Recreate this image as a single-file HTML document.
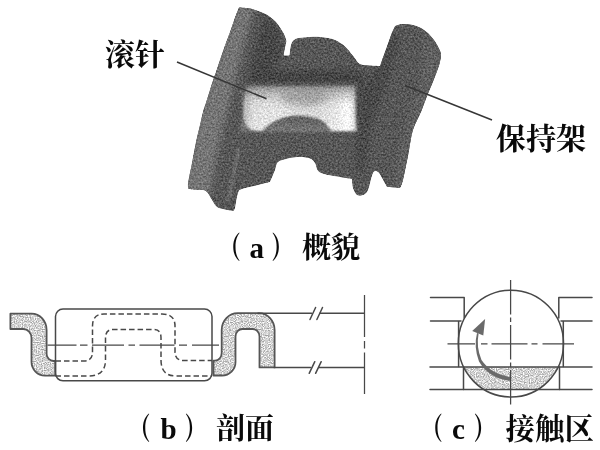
<!DOCTYPE html>
<html lang="zh">
<head>
<meta charset="utf-8">
<title>滚针 保持架</title>
<style>
html,body{margin:0;padding:0;background:#fff;}
body{width:600px;height:450px;overflow:hidden;}
svg{display:block;}
text{opacity:0.996;}
.cj{font-family:"Liberation Serif","Noto Serif CJK SC",serif;font-weight:700;fill:#0a0a0a;}
.pr{font-family:"Liberation Serif","Noto Serif CJK SC",serif;font-weight:900;fill:#0a0a0a;}
.ln{stroke:#484848;stroke-width:1.5;fill:none;stroke-linecap:round;stroke-linejoin:round;}
.dash{stroke:#484848;stroke-width:1.5;fill:none;stroke-dasharray:5.5 3;}
.ctr{stroke:#484848;stroke-width:1.25;fill:none;}
.cage{fill:none;stroke:#555;stroke-width:1.8;stroke-linejoin:round;}
</style>
</head>
<body>
<svg width="600" height="450" viewBox="0 0 600 450">
<defs>
  <filter id="speck" x="0" y="0" width="100%" height="100%" color-interpolation-filters="sRGB">
    <feTurbulence type="fractalNoise" baseFrequency="0.85" numOctaves="1" seed="11" result="t"/>
    <feColorMatrix in="t" type="matrix" values="1 0 0 0 0  1 0 0 0 0  1 0 0 0 0  0 0 0 0 1" result="g"/>
    <feComponentTransfer in="g" result="g2"><feFuncR type="linear" slope="2.4" intercept="-0.7"/><feFuncG type="linear" slope="2.4" intercept="-0.7"/><feFuncB type="linear" slope="2.4" intercept="-0.7"/></feComponentTransfer>
    <feComposite in="SourceGraphic" in2="g2" operator="arithmetic" k1="0" k2="1" k3="0.4" k4="-0.2" result="m"/>
    <feComposite in="m" in2="SourceGraphic" operator="in"/>
  </filter>
  <linearGradient id="gL" x1="0" y1="0" x2="1" y2="0">
    <stop offset="0" stop-color="#6e6e6e"/>
    <stop offset="0.5" stop-color="#5a5a5a"/>
    <stop offset="1" stop-color="#4e4e4e"/>
  </linearGradient>
  <linearGradient id="gR" x1="0" y1="0" x2="1" y2="0">
    <stop offset="0" stop-color="#505050"/>
    <stop offset="0.6" stop-color="#5e5e5e"/>
    <stop offset="1" stop-color="#6a6a6a"/>
  </linearGradient>
  <linearGradient id="gRoll" x1="0" y1="0" x2="1" y2="0">
    <stop offset="0" stop-color="#b4b4b4"/>
    <stop offset="0.1" stop-color="#dedede"/>
    <stop offset="0.3" stop-color="#e2e2e2"/>
    <stop offset="0.6" stop-color="#d6d6d6"/>
    <stop offset="0.82" stop-color="#e4e4e4"/>
    <stop offset="0.93" stop-color="#fcfcfc"/>
    <stop offset="1" stop-color="#d0d0d0"/>
  </linearGradient>
  <linearGradient id="gRollV" x1="0" y1="0" x2="0" y2="1">
    <stop offset="0" stop-color="#555" stop-opacity="0.9"/>
    <stop offset="0.14" stop-color="#666" stop-opacity="0.55"/>
    <stop offset="0.4" stop-color="#888" stop-opacity="0.12"/>
    <stop offset="0.6" stop-color="#fff" stop-opacity="0"/>
    <stop offset="1" stop-color="#fff" stop-opacity="0.2"/>
  </linearGradient>
  <filter id="soft" x="-5%" y="-5%" width="110%" height="110%">
    <feGaussianBlur stdDeviation="0.7"/>
  </filter>
  <filter id="soft2" x="-10%" y="-10%" width="120%" height="120%">
    <feGaussianBlur stdDeviation="1.0"/>
  </filter>
  <clipPath id="silclip"><path d="M239.0,7.5 C239.0,7.5 244.5,7.7 247.0,8.0 C249.5,8.3 251.7,8.8 254.0,9.5 C256.3,10.2 258.8,11.1 261.0,12.0 C263.2,12.9 265.7,13.9 267.5,15.0 C269.3,16.1 270.6,17.3 272.0,18.5 C273.4,19.7 274.7,20.5 276.0,22.0 C277.3,23.5 278.7,25.5 280.0,27.5 C281.3,29.5 282.9,31.8 284.0,34.0 C285.1,36.2 286.5,41.0 286.5,41.0 C286.5,41.0 285.5,45.6 285.0,48.0 C284.5,50.4 283.5,55.5 283.5,55.5 C283.5,55.5 289.5,55.5 289.5,55.5 C289.5,55.5 290.0,51.0 290.3,49.0 C290.6,47.0 290.9,45.0 291.5,43.5 C292.1,42.0 292.8,40.9 294.0,40.0 C295.2,39.1 295.8,38.5 298.5,38.0 C301.2,37.5 306.4,37.2 310.0,37.0 C313.6,36.8 317.0,36.8 320.0,37.0 C323.0,37.2 325.5,37.5 328.0,38.0 C330.5,38.5 332.7,39.0 335.0,40.0 C337.3,41.0 339.9,42.5 342.0,44.0 C344.1,45.5 345.5,46.8 347.5,49.0 C349.5,51.2 351.9,54.5 354.0,57.0 C356.1,59.5 357.3,62.6 360.0,64.0 C362.7,65.4 366.7,65.2 370.0,65.5 C373.3,65.8 380.0,66.0 380.0,66.0 C380.0,66.0 382.2,59.5 383.5,56.0 C384.8,52.5 386.2,48.5 387.5,45.0 C388.8,41.5 389.8,38.2 391.0,35.0 C392.2,31.8 395.0,26.0 395.0,26.0 C395.0,26.0 398.3,24.6 400.0,24.3 C401.7,24.0 402.8,23.9 405.0,24.0 C407.2,24.1 410.5,24.4 413.0,25.0 C415.5,25.6 417.5,26.2 420.0,27.5 C422.5,28.8 425.7,30.9 428.0,33.0 C430.3,35.1 432.3,37.8 434.0,40.0 C435.7,42.2 436.8,44.2 438.0,46.5 C439.2,48.8 440.7,51.4 441.0,54.0 C441.3,56.6 440.6,59.3 440.0,62.0 C439.4,64.7 438.8,66.5 437.5,70.0 C436.2,73.5 434.2,78.8 432.5,83.0 C430.8,87.2 429.4,90.2 427.5,95.0 C425.6,99.8 423.4,106.2 421.0,112.0 C418.6,117.8 415.2,122.7 413.0,130.0 C410.8,137.3 409.7,147.7 408.0,156.0 C406.3,164.3 404.3,174.7 403.0,180.0 C401.7,185.3 400.0,188.0 400.0,188.0 C400.0,188.0 387.0,187.0 387.0,187.0 C387.0,187.0 383.5,180.5 382.0,178.0 C380.5,175.5 379.5,172.8 378.0,172.0 C376.5,171.2 374.7,170.0 373.0,173.0 C371.3,176.0 369.7,186.3 368.0,190.0 C366.3,193.7 364.8,194.2 363.0,195.0 C361.2,195.8 358.7,196.2 357.0,195.0 C355.3,193.8 353.8,190.7 353.0,188.0 C352.2,185.3 352.0,179.0 352.0,179.0 C352.0,179.0 345.3,178.1 340.0,177.0 C334.7,175.9 324.2,174.8 320.0,172.5 C315.8,170.2 316.7,165.3 315.0,163.0 C313.3,160.7 312.5,159.5 310.0,158.5 C307.5,157.5 303.7,157.0 300.0,157.0 C296.3,157.0 291.7,157.6 288.0,158.4 C284.3,159.2 280.2,160.1 278.0,162.0 C275.8,163.9 276.3,166.7 275.0,170.0 C273.7,173.3 270.0,182.0 270.0,182.0 C270.0,182.0 262.7,183.8 258.0,185.0 C253.3,186.2 245.3,187.7 242.0,189.0 C238.7,190.3 239.2,189.8 238.0,193.0 C236.8,196.2 235.8,205.0 235.0,208.0 C234.2,211.0 233.0,211.0 233.0,211.0 C233.0,211.0 227.7,210.2 225.0,209.5 C222.3,208.8 219.2,208.6 217.0,207.0 C214.8,205.4 213.8,202.7 212.0,200.0 C210.2,197.3 208.3,192.7 206.0,191.0 C203.7,189.3 200.8,190.3 198.0,190.0 C195.2,189.7 189.0,189.0 189.0,189.0 C189.0,189.0 187.5,188.3 188.0,184.0 C188.5,179.7 190.7,170.0 192.0,163.0 C193.3,156.0 194.7,148.3 196.0,142.0 C197.3,135.7 198.8,130.0 200.0,125.0 C201.2,120.0 201.8,116.5 203.0,112.0 C204.2,107.5 205.9,103.0 207.5,98.0 C209.1,93.0 210.9,86.8 212.5,82.0 C214.1,77.2 215.6,73.2 217.0,69.0 C218.4,64.8 219.6,61.2 221.0,57.0 C222.4,52.8 224.0,48.2 225.5,44.0 C227.0,39.8 228.5,36.2 230.0,32.0 C231.5,27.8 233.0,23.1 234.5,19.0 C236.0,14.9 239.0,7.5 239.0,7.5 Z"/></clipPath>
  <filter id="soft3" x="-30%" y="-30%" width="160%" height="160%">
    <feGaussianBlur stdDeviation="3"/>
  </filter>
  <filter id="grain" x="0" y="0" width="100%" height="100%" color-interpolation-filters="sRGB">
    <feGaussianBlur in="SourceGraphic" stdDeviation="0.6" result="b"/>
    <feTurbulence type="fractalNoise" baseFrequency="0.55" numOctaves="2" seed="7" result="t"/>
    <feColorMatrix in="t" type="matrix" values="1 0 0 0 0  1 0 0 0 0  1 0 0 0 0  0 0 0 0 1" result="g"/>
    <feComposite in="b" in2="g" operator="arithmetic" k1="0" k2="1" k3="0.44" k4="-0.22" result="m"/>
    <feComposite in="m" in2="b" operator="in"/>
  </filter>
</defs>

<!-- (a) 3D view -->
<g id="view3d" filter="url(#grain)">
  <path id="silh" fill="#575757" d="M239.0,7.5 C239.0,7.5 244.5,7.7 247.0,8.0 C249.5,8.3 251.7,8.8 254.0,9.5 C256.3,10.2 258.8,11.1 261.0,12.0 C263.2,12.9 265.7,13.9 267.5,15.0 C269.3,16.1 270.6,17.3 272.0,18.5 C273.4,19.7 274.7,20.5 276.0,22.0 C277.3,23.5 278.7,25.5 280.0,27.5 C281.3,29.5 282.9,31.8 284.0,34.0 C285.1,36.2 286.5,41.0 286.5,41.0 C286.5,41.0 285.5,45.6 285.0,48.0 C284.5,50.4 283.5,55.5 283.5,55.5 C283.5,55.5 289.5,55.5 289.5,55.5 C289.5,55.5 290.0,51.0 290.3,49.0 C290.6,47.0 290.9,45.0 291.5,43.5 C292.1,42.0 292.8,40.9 294.0,40.0 C295.2,39.1 295.8,38.5 298.5,38.0 C301.2,37.5 306.4,37.2 310.0,37.0 C313.6,36.8 317.0,36.8 320.0,37.0 C323.0,37.2 325.5,37.5 328.0,38.0 C330.5,38.5 332.7,39.0 335.0,40.0 C337.3,41.0 339.9,42.5 342.0,44.0 C344.1,45.5 345.5,46.8 347.5,49.0 C349.5,51.2 351.9,54.5 354.0,57.0 C356.1,59.5 357.3,62.6 360.0,64.0 C362.7,65.4 366.7,65.2 370.0,65.5 C373.3,65.8 380.0,66.0 380.0,66.0 C380.0,66.0 382.2,59.5 383.5,56.0 C384.8,52.5 386.2,48.5 387.5,45.0 C388.8,41.5 389.8,38.2 391.0,35.0 C392.2,31.8 395.0,26.0 395.0,26.0 C395.0,26.0 398.3,24.6 400.0,24.3 C401.7,24.0 402.8,23.9 405.0,24.0 C407.2,24.1 410.5,24.4 413.0,25.0 C415.5,25.6 417.5,26.2 420.0,27.5 C422.5,28.8 425.7,30.9 428.0,33.0 C430.3,35.1 432.3,37.8 434.0,40.0 C435.7,42.2 436.8,44.2 438.0,46.5 C439.2,48.8 440.7,51.4 441.0,54.0 C441.3,56.6 440.6,59.3 440.0,62.0 C439.4,64.7 438.8,66.5 437.5,70.0 C436.2,73.5 434.2,78.8 432.5,83.0 C430.8,87.2 429.4,90.2 427.5,95.0 C425.6,99.8 423.4,106.2 421.0,112.0 C418.6,117.8 415.2,122.7 413.0,130.0 C410.8,137.3 409.7,147.7 408.0,156.0 C406.3,164.3 404.3,174.7 403.0,180.0 C401.7,185.3 400.0,188.0 400.0,188.0 C400.0,188.0 387.0,187.0 387.0,187.0 C387.0,187.0 383.5,180.5 382.0,178.0 C380.5,175.5 379.5,172.8 378.0,172.0 C376.5,171.2 374.7,170.0 373.0,173.0 C371.3,176.0 369.7,186.3 368.0,190.0 C366.3,193.7 364.8,194.2 363.0,195.0 C361.2,195.8 358.7,196.2 357.0,195.0 C355.3,193.8 353.8,190.7 353.0,188.0 C352.2,185.3 352.0,179.0 352.0,179.0 C352.0,179.0 345.3,178.1 340.0,177.0 C334.7,175.9 324.2,174.8 320.0,172.5 C315.8,170.2 316.7,165.3 315.0,163.0 C313.3,160.7 312.5,159.5 310.0,158.5 C307.5,157.5 303.7,157.0 300.0,157.0 C296.3,157.0 291.7,157.6 288.0,158.4 C284.3,159.2 280.2,160.1 278.0,162.0 C275.8,163.9 276.3,166.7 275.0,170.0 C273.7,173.3 270.0,182.0 270.0,182.0 C270.0,182.0 262.7,183.8 258.0,185.0 C253.3,186.2 245.3,187.7 242.0,189.0 C238.7,190.3 239.2,189.8 238.0,193.0 C236.8,196.2 235.8,205.0 235.0,208.0 C234.2,211.0 233.0,211.0 233.0,211.0 C233.0,211.0 227.7,210.2 225.0,209.5 C222.3,208.8 219.2,208.6 217.0,207.0 C214.8,205.4 213.8,202.7 212.0,200.0 C210.2,197.3 208.3,192.7 206.0,191.0 C203.7,189.3 200.8,190.3 198.0,190.0 C195.2,189.7 189.0,189.0 189.0,189.0 C189.0,189.0 187.5,188.3 188.0,184.0 C188.5,179.7 190.7,170.0 192.0,163.0 C193.3,156.0 194.7,148.3 196.0,142.0 C197.3,135.7 198.8,130.0 200.0,125.0 C201.2,120.0 201.8,116.5 203.0,112.0 C204.2,107.5 205.9,103.0 207.5,98.0 C209.1,93.0 210.9,86.8 212.5,82.0 C214.1,77.2 215.6,73.2 217.0,69.0 C218.4,64.8 219.6,61.2 221.0,57.0 C222.4,52.8 224.0,48.2 225.5,44.0 C227.0,39.8 228.5,36.2 230.0,32.0 C231.5,27.8 233.0,23.1 234.5,19.0 C236.0,14.9 239.0,7.5 239.0,7.5 Z"/>
  <g clip-path="url(#silclip)">
    <!-- lighter left flank of left pillar -->
    <path filter="url(#soft3)" fill="#747474" d="M239,3 L254,8 L244,45 L234,85 L224,125 L216,160 L210,195 L183,192 L193,140 L210,80 Z"/>
    <!-- darker core of left pillar -->
    <path filter="url(#soft3)" fill="#464646" d="M264,16 L280,30 L282,55 L270,75 L254,88 L250,70 L257,40 Z"/>
    <!-- shadow above roller -->
    <path filter="url(#soft3)" fill="#454545" d="M252,70 L360,70 L366,84 L360,88 L248,88 Z"/>
    <!-- dark inner edge of right pillar -->
    <path filter="url(#soft3)" fill="#484848" d="M380,66 L392,30 L400,40 L388,80 L370,130 L364,172 L356,172 L356,90 Z"/>
    <!-- lighter right flank of right pillar -->
    <path filter="url(#soft3)" fill="#606060" d="M425,35 L444,54 L425,105 L412,150 L404,190 L392,188 L402,140 L420,80 Z"/>
    <!-- highlight ridge lower left -->
    <path filter="url(#soft2)" fill="#707070" d="M237,148 L240,150 L230,200 L227,199 Z"/>
    <!-- roller -->
    <g filter="url(#soft2)">
      <path fill="url(#gRoll)" d="M247,86 L355,86 L356,131 L331,131 Q326,121 317.500,118.500 Q303,114.500 291,116 Q275,118.500 265,128 L262,131 L252,130 Q244,126 243.500,118 Q242,100 247,86 Z"/>
      <path fill="url(#gRollV)" d="M240,82 L358,82 L358,132 L240,132 Z"/>
      <ellipse filter="url(#soft3)" cx="304" cy="98" rx="24" ry="8" fill="#909090" opacity="0.6"/>
    </g>
  </g>
</g>

<!-- leader lines -->
<line x1="177" y1="62" x2="266.500" y2="98.800" stroke="#363636" stroke-width="1.5"/>
<line x1="405" y1="85.500" x2="492" y2="120" stroke="#363636" stroke-width="1.5"/>

<!-- labels -->
<text class="cj" x="105" y="65" font-size="30">滚针</text>
<text class="cj" x="496" y="149" font-size="30">保持架</text>

<!-- caption a -->
<text class="pr" font-size="30" transform="translate(220.300,0) scale(0.68,1)" x="0" y="258">（</text>
<text class="cj" font-size="29" x="249.500" y="258">a</text>
<text class="pr" font-size="30" transform="translate(271.400,0) scale(0.68,1)" x="0" y="258">）</text>
<text class="cj" font-size="29" x="302" y="258">概貌</text>

<!-- (b) section -->
<g id="secB">
  <!-- left cage piece -->
  <path fill="#d2d2d2" filter="url(#speck)" d="M10.400,313.700 L31.600,313.700 A15,16.300 0 0 1 46.600,330 L46.600,354 A7,7 0 0 0 53.600,361 L55.300,361 L55.300,375.600 L45,375.600 A13.500,13.800 0 0 1 31.500,361.800 L31.500,337.800 A8.300,8.800 0 0 0 23.200,329 L10.400,329 Z"/>
  <path class="cage" d="M10.400,313.700 L31.600,313.700 A15,16.300 0 0 1 46.600,330 L46.600,354 A7,7 0 0 0 53.600,361 L55.300,361 L55.300,375.600 L45,375.600 A13.500,13.800 0 0 1 31.500,361.800 L31.500,337.800 A8.300,8.800 0 0 0 23.200,329 L10.400,329 Z"/>
  <!-- right cage piece -->
  <path fill="#d2d2d2" filter="url(#speck)" d="M213.500,360.600 L215,360.600 A6.800,7.500 0 0 0 221.700,353 L221.700,330 A16,16.800 0 0 1 237.700,313.200 L259,313.200 A15.600,16.800 0 0 1 274.600,330 L274.600,367.400 L259.500,367.400 L259.500,336.500 A7,7.500 0 0 0 252.500,329 L242.500,329 A7,7.500 0 0 0 235.500,336.500 L235.500,362 A13.500,13.500 0 0 1 222,375.500 L213.500,375.500 Z"/>
  <path class="cage" d="M213.500,360.600 L215,360.600 A6.800,7.500 0 0 0 221.700,353 L221.700,330 A16,16.800 0 0 1 237.700,313.200 L259,313.200 A15.600,16.800 0 0 1 274.600,330 L274.600,367.400 L259.500,367.400 L259.500,336.500 A7,7.500 0 0 0 252.500,329 L242.500,329 A7,7.500 0 0 0 235.500,336.500 L235.500,362 A13.500,13.500 0 0 1 222,375.500 L213.500,375.500 Z"/>
  <!-- roller rect -->
  <rect class="ln" x="55.500" y="309" width="156.500" height="71.800" rx="7.500" ry="7.500"/>
  <!-- centre line -->
  <path class="ctr" d="M47.500,345 L76.500,345 M80,345 L87.500,345 M92,345 L124,345 M128.500,345 L135,345 M139.500,345 L174.500,345 M179,345 L187,345 M192,345 L219,345"/>
  <!-- outer dashed profile -->
  <path class="dash" d="M55.500,361 L84,361 Q92.500,361 92.500,352 L92.500,326 Q92.500,314 104,314 L162,314 Q175,314 175,326 L175,352 Q175,360.500 184,360.500 L212,360.500"/>
  <!-- inner dashed profile -->
  <path class="dash" d="M55.500,376 L88,376 Q105.500,376 105.500,360 L105.500,338 Q105.500,329.500 113,329.500 L154,329.500 Q161,329.500 161,338 L161,360 Q161,376 176,376 L212,376"/>
  <!-- extension lines -->
  <path class="ln" d="M258,313.300 L311.500,313.300 M320,313.300 L364,313.300"/>
  <path class="ln" d="M274,367.500 L310.500,367.500 M319,367.500 L364,367.500"/>
  <path class="ln" d="M310,319.500 L315.600,307.500 M316.900,319.500 L322.500,307.500 M309.200,373.300 L314.800,361.700 M315.600,373.300 L321.200,361.700"/>
  <!-- vertical axis -->
  <path class="ctr" d="M364.500,295 L364.500,337 M364.500,341 L364.500,348.500 M364.500,352.500 L364.500,394"/>
</g>

<!-- caption b -->
<text class="pr" font-size="30" transform="translate(130.100,0) scale(0.68,1)" x="0" y="439.500">（</text>
<text class="cj" font-size="29" x="160.500" y="439">b</text>
<text class="pr" font-size="30" transform="translate(184.850,0) scale(0.68,1)" x="0" y="439.500">）</text>
<text class="cj" font-size="29" x="216" y="439">剖面</text>

<!-- (c) contact zone -->
<g id="secC">
  <!-- shaded segment -->
  <path fill="#d2d2d2" filter="url(#speck)" d="M464,367 L557.800,367 A52.500,52.500 0 0 1 535.500,389.500 L486.300,389.500 A52.500,52.500 0 0 1 464,367 Z"/>
  <ellipse class="ln" cx="510.900" cy="343.600" rx="52.600" ry="53.400" stroke-width="1.6"/>
  <!-- left -->
  <path class="ln" d="M430.500,297.500 L464.200,297.500 L464.200,318 M430.500,321 L461,321 M458.600,321 L458.600,366.500 M463.500,367 L463.500,389.500"/>
  <!-- right -->
  <path class="ln" d="M592,297.500 L558.800,297.500 L558.800,318 M592,321 L561,321 M563.300,321 L563.300,366.500 M559.500,367 L559.500,389.500"/>
  <path class="ln" d="M430,367 L592,367 M430,389.500 L592,389.500"/>
  <!-- centre lines -->
  <path class="ctr" d="M510.600,280 L510.600,407.500" stroke-dasharray="34.500 3 4.500 3"/>
  <path class="ctr" d="M447.500,343.900 L475,343.900 M481,343.900 L487.500,343.900 M491.500,343.900 L527.500,343.900 M531.500,343.900 L537.500,343.900 M542.500,343.900 L574,343.900"/>
  <!-- arrow -->
  <path fill="#6a6a6a" d="M510,377 Q491,374 481.500,360 Q476,347 478.600,333.500 L477,333 Q473.500,347 479,361.500 Q489,378.500 510,380.800 Z"/>
  <path fill="#6a6a6a" d="M485.100,318.900 L472.200,331.100 L483.300,335.600 Z"/>
</g>

<!-- caption c -->
<text class="pr" font-size="30" transform="translate(422.300,0) scale(0.68,1)" x="0" y="439.500">（</text>
<text class="cj" font-size="29" x="452" y="439">c</text>
<text class="pr" font-size="30" transform="translate(473.800,0) scale(0.68,1)" x="0" y="439.500">）</text>
<text class="cj" font-size="29.500" x="505.500" y="439">接触区</text>
</svg>
</body>
</html>
